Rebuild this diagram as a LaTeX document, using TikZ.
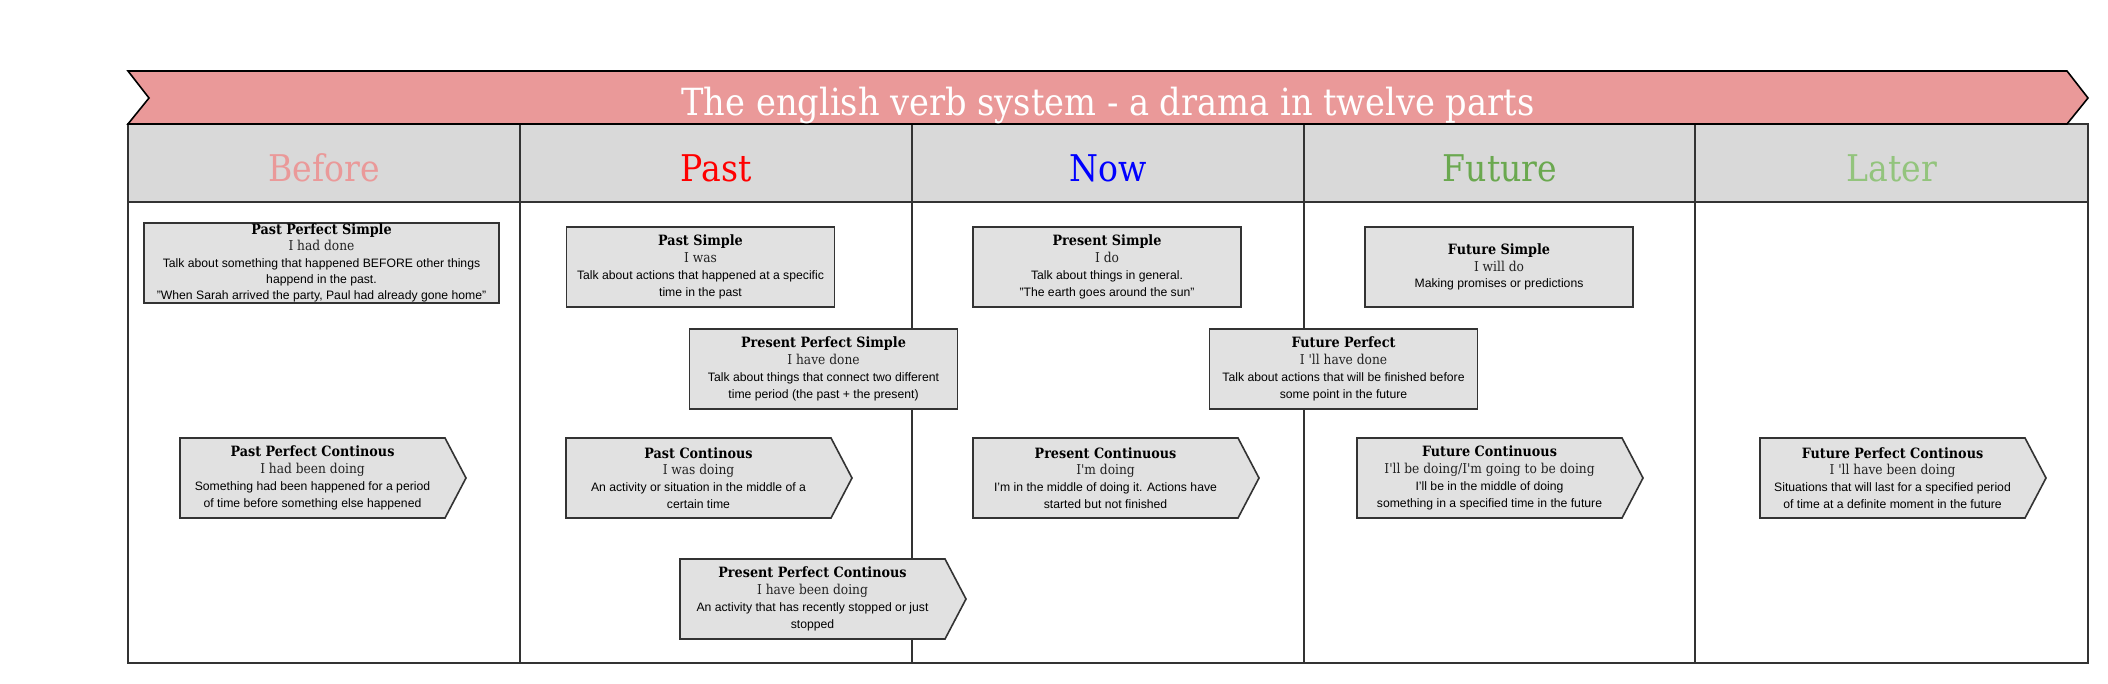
\documentclass[tikz,border=0pt]{standalone}
\usepackage{fontspec}
\setmainfont{Liberation Sans}
\newfontfamily\slab{DejaVu Serif Condensed}
\usetikzlibrary{calc,backgrounds}
\definecolor{bannerfill}{HTML}{EA9999}
\definecolor{headfill}{HTML}{D9D9D9}
\definecolor{boxfill}{HTML}{E1E1E1}
\definecolor{boxline}{HTML}{333333}
\definecolor{subgrey}{HTML}{222222}
\definecolor{cbefore}{HTML}{EA9999}
\definecolor{cpast}{HTML}{FF0000}
\definecolor{cnow}{HTML}{0000FF}
\definecolor{cfuture}{HTML}{6AA84F}
\definecolor{clater}{HTML}{93C47D}
\newcommand\boxtitle[1]{{\slab\bfseries\fontsize{7.1}{9}\selectfont #1}}
\newcommand\boxsub[1]{{\slab\color{subgrey}\fontsize{6.8}{8.4}\selectfont #1}}
\tikzset{
  tline/.style={draw=boxline, line width=0.7pt},
  sbox/.style={draw=boxline, fill=boxfill, line width=0.8pt, minimum width=134pt,
    minimum height=40pt, align=center, inner sep=1pt, outer sep=0pt,
    font=\fontsize{6.1}{8.4}\selectfont},
  abox/.style={rectangle, minimum width=132.5pt, minimum height=40pt, align=center,
    inner sep=1pt, outer sep=0pt, font=\fontsize{6.1}{8.4}\selectfont},
  aboxshape/.style={draw=boxline, fill=boxfill, line width=0.8pt, line join=miter},
  headtext/.style={font=\slab\fontsize{18.4}{21}\selectfont},
}
\newcommand\arrowshape[1]{%
  \begin{scope}[on background layer]
    \draw[aboxshape] (#1.north west) -- (#1.north east) -- ($(#1.east)+(21,0)$)
      -- (#1.south east) -- (#1.south west) -- cycle;
  \end{scope}}
\begin{document}
\begin{tikzpicture}[x=0.5pt,y=-0.5pt]
\useasboundingbox (0,0) rectangle (2108,684);
\begin{scope}[on background layer]
  \fill[headfill] (128,124) rectangle (2088,202);
  \foreach \x in {520,912,1304,1695} \draw[tline] (\x,124) -- (\x,663);
  \draw[tline] (128,124) rectangle (2088,663);
  \draw[draw=boxline, line width=1pt] (128,202) -- (2088,202);
\end{scope}
% banner
\draw[fill=bannerfill, draw=black, line width=0.8pt, line join=miter]
  (128,71) -- (2067,71) -- (2088,98) -- (2067,124) -- (128,124) -- (149,98) -- cycle;
\node[text=white, font=\slab\fontsize{18.7}{21}\selectfont] (title) at (1108,105)
  {The english verb system - a drama in twelve parts};
% headers
\node[headtext, text=cbefore] (hbefore) at (324,168) {Before};
\node[headtext, text=cpast] (hpast) at (716,168) {Past};
\node[headtext, text=cnow] (hnow) at (1108,168) {Now};
\node[headtext, text=cfuture] (hfuture) at (1500,168) {Future};
\node[headtext, text=clater] (hlater) at (1892,168) {Later};
% simple boxes
\node[sbox, minimum width=177.5pt, inner ysep=-0.5pt,
      font=\fontsize{6.1}{8.1}\selectfont] (pps) at (321.5,263)
  {\boxtitle{Past Perfect Simple}\\\boxsub{I had done}\\Talk about something that happened BEFORE other things\\happend in the past.\\"When Sarah arrived the party, Paul had already gone home"};
\node[sbox] (ps) at (700.5,267)
  {\boxtitle{Past Simple}\\\boxsub{I was}\\Talk about actions that happened at a specific\\time in the past};
\node[sbox] (prs) at (1107,267)
  {\boxtitle{Present Simple}\\\boxsub{I do}\\Talk about things in general.\\"The earth goes around the sun"};
\node[sbox] (fs) at (1499,267)
  {\boxtitle{Future Simple}\\\boxsub{I will do}\\Making promises or predictions};
\node[sbox] (prps) at (823.5,369)
  {\boxtitle{Present Perfect Simple}\\\boxsub{I have done}\\Talk about things that connect two different\\time period (the past + the present)};
\node[sbox] (fp) at (1343.5,369)
  {\boxtitle{Future Perfect}\\\boxsub{I 'll have done}\\Talk about actions that will be finished before\\some point in the future};
% arrow boxes
\node[abox] (ppc) at (312.5,478)
  {\boxtitle{Past Perfect Continous}\\\boxsub{I had been doing}\\Something had been happened for a period\\of time before something else happened};
\arrowshape{ppc}
\node[abox] (pc) at (698.5,478)
  {\boxtitle{Past Continous}\\\boxsub{I was doing}\\An activity or situation in the middle of a\\certain time};
\arrowshape{pc}
\node[abox] (prc) at (1105.5,478)
  {\boxtitle{Present Continuous}\\\boxsub{I'm doing}\\I'm in the middle of doing it. Actions have\\started but not finished};
\arrowshape{prc}
\node[abox] (fc) at (1489.5,478)
  {\boxtitle{Future Continuous}\\\boxsub{I'll be doing/I'm going to be doing}\\I'll be in the middle of doing\\something in a specified time in the future};
\arrowshape{fc}
\node[abox] (fpc) at (1892.5,478)
  {\boxtitle{Future Perfect Continous}\\\boxsub{I 'll have been doing}\\Situations that will last for a specified period\\of time at a definite moment in the future};
\arrowshape{fpc}
\node[abox] (prpc) at (812.5,599)
  {\boxtitle{Present Perfect Continous}\\\boxsub{I have been doing}\\An activity that has recently stopped or just\\stopped};
\arrowshape{prpc}
\end{tikzpicture}
\end{document}
